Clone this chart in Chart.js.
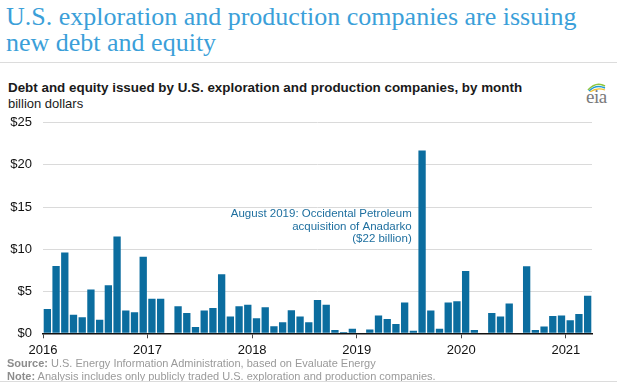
<!DOCTYPE html>
<html>
<head>
<meta charset="utf-8">
<script src="https://cdn.jsdelivr.net/npm/chart.js"></script>
<style>
  body { margin: 0; background: #fff; }
  #page { position: relative; width: 617px; height: 383px; overflow: hidden; font-family: 'Liberation Sans', Arial, sans-serif; }
  #title { position: absolute; left: 6px; top: 4px; font: 26px/26px 'Liberation Serif', 'Times New Roman', serif; color: #3b9fd9; }
  #rule { position: absolute; left: 0; top: 62px; width: 617px; height: 1px; background: #dcdcdc; }
  #subtitle { position: absolute; left: 8px; top: 80px; font-weight: bold; font-size: 13.4px; color: #1a1a1a; }
  #unit { position: absolute; left: 8px; top: 96px; font-size: 13px; color: #1a1a1a; }
  #logo { position: absolute; left: 584px; top: 80px; width: 24px; height: 26px; }
  #logo span { position: absolute; left: 2px; top: 6px; font: 19px 'Liberation Serif', serif; color: #7a7a7a; letter-spacing: -0.5px; }
  #chart-box { position: absolute; left: 0; top: 104px; width: 617px; height: 256px; }
  #footer { position: absolute; left: 7px; top: 357px; font-size: 11px; line-height: 12.5px; color: #9a9a9a; }
  #footer b { color: #8c8c8c; }
  #bottom-rule { position: absolute; left: 0; top: 381px; width: 617px; height: 1px; background: #dcdcdc; }
</style>
</head>
<body>
<div id="page">
  <div id="title">U.S. exploration and production companies are issuing<br>new debt and equity</div>
  <div id="rule"></div>
  <div id="subtitle">Debt and equity issued by U.S. exploration and production companies, by month</div>
  <div id="unit">billion dollars</div>
  <div id="logo">
    <svg width="24" height="12" style="position:absolute;left:0;top:0">
      <path d="M4 10 Q12 1 21 6" stroke="#8dc63f" stroke-width="1.6" fill="none"/>
      <path d="M5 11 Q12 4 21 8" stroke="#1f9bd7" stroke-width="1.4" fill="none"/>
      <path d="M6 12 Q13 7 21 10" stroke="#f2c230" stroke-width="1.2" fill="none"/>
    </svg>
    <span>eia</span>
  </div>
  <div id="chart-box"><canvas id="chart"></canvas></div>
  <div id="footer">
    <div><b>Source:</b> U.S. Energy Information Administration, based on Evaluate Energy</div>
    <div><b>Note:</b> Analysis includes only publicly traded U.S. exploration and production companies.</div>
  </div>
  <div id="bottom-rule"></div>
</div>

<script>
// Monthly issuance, billion dollars, Jan 2016 - Mar 2021
const v2016 = [2.9, 8.0, 9.6, 2.2, 1.9, 5.2, 1.6, 5.7, 11.5, 2.7, 2.5, 9.1];
const v2017 = [4.1, 4.1, 0, 3.2, 2.4, 0.75, 2.7, 3.0, 7.0, 2.0, 3.2, 3.4];
const v2018 = [1.8, 3.1, 0.85, 1.3, 2.75, 2.0, 1.3, 3.95, 3.4, 0.4, 0.15, 0.55];
const v2019 = [0, 0.45, 2.1, 1.7, 1.1, 3.65, 0.3, 21.7, 2.7, 0.55, 3.65, 3.8];
const v2020 = [7.4, 0.4, 0, 2.4, 2.0, 3.55, 0, 7.95, 0.4, 0.8, 2.05, 2.1];
const v2021 = [1.55, 2.3, 4.45];

const years = ['2016', '2017', '2018', '2019', '2020', '2021'];
const yTicks = [0, 5, 10, 15, 20, 25];
const noteLines = ['August 2019: Occidental Petroleum', 'acquisition of Anadarko', '($22 billion)'];
const noteMonth = 43; // Aug 2019

const values = [].concat(v2016, v2017, v2018, v2019, v2020, v2021);
const points = values.map((v, i) => ({ x: i + 0.5, y: v }));

Chart.defaults.font.family = "'Liberation Sans', Arial, sans-serif";

// annotation for the Anadarko deal
const notePlugin = {
  id: 'note',
  afterDraw(chart) {
    const ctx = chart.ctx;
    const xs = chart.scales.x, ys = chart.scales.y;
    const right = xs.getPixelForValue(noteMonth) - 6;
    const top = ys.getPixelForValue(14.2);
    ctx.save();
    ctx.font = "11.5px 'Liberation Sans', Arial, sans-serif";
    ctx.fillStyle = '#1e6f9f';
    ctx.textAlign = 'right';
    ctx.textBaseline = 'middle';
    noteLines.forEach((line, i) => ctx.fillText(line, right, top + i * 12.6));
    ctx.restore();
  }
};

new Chart(document.getElementById('chart'), {
  type: 'bar',
  data: {
    datasets: [{
      data: points,
      backgroundColor: '#0b6d9f',
      borderWidth: 0,
      barPercentage: 0.84,
      categoryPercentage: 1.0
    }]
  },
  options: {
    responsive: true,
    maintainAspectRatio: false,
    animation: false,
    layout: { padding: { top: 17, right: 25, bottom: 0, left: 0 } },
    plugins: { legend: { display: false }, tooltip: { enabled: false } },
    scales: {
      x: {
        type: 'linear',
        min: 0,
        max: values.length,
        offset: false,
        afterBuildTicks: axis => { axis.ticks = years.map((y, i) => ({ value: i * 12 })); },
        afterFit: axis => { axis.height = 26.7; },
        ticks: {
          color: '#111',
          font: { size: 13 },
          padding: 4,
          maxRotation: 0,
          autoSkip: false,
          callback: v => years[v / 12]
        },
        grid: { offset: false, drawOnChartArea: false, drawTicks: true, tickLength: 5, color: '#444' },
        border: { color: '#111', width: 1.5 }
      },
      y: {
        min: 0,
        max: 25,
        afterBuildTicks: axis => { axis.ticks = yTicks.map(v => ({ value: v })); },
        afterFit: axis => { axis.width = 43; },
        ticks: {
          color: '#111',
          font: { size: 13 },
          padding: 11,
          callback: v => '$' + v
        },
        grid: { color: '#dadada', lineWidth: 1, drawTicks: false },
        border: { display: false }
      }
    }
  },
  plugins: [notePlugin]
});
</script>
</body>
</html>
